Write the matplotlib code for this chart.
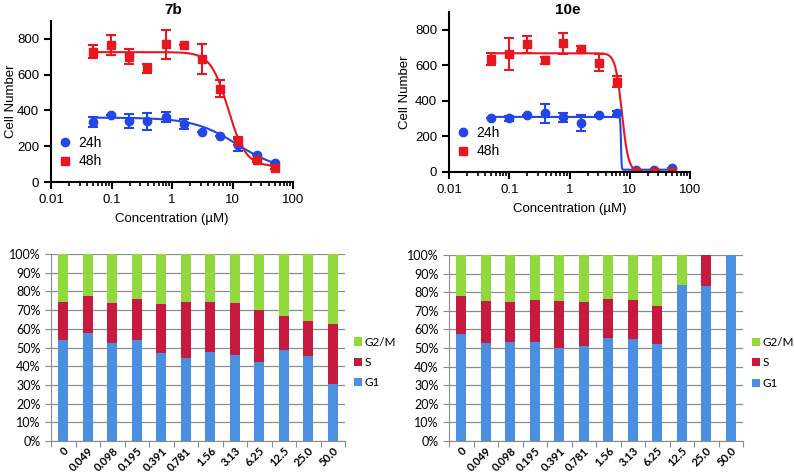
import numpy as np
import matplotlib
matplotlib.use('Agg')
import matplotlib.pyplot as plt
from matplotlib.ticker import LogLocator, NullFormatter, FixedLocator

plt.rcParams['font.family'] = ['Liberation Sans', 'DejaVu Sans']

# --- dose response data (concentration in uM) ---
conc = [0.049, 0.098, 0.195, 0.391, 0.781, 1.56, 3.13, 6.25, 12.5, 25, 50]

b7_24h = [334, 377, 340, 340, 362, 325, 278, 259, 208, 152, 105]
b7_24h_err = [28, 0, 38, 47, 28, 28, 0, 0, 33, 0, 0]
b7_48h = [729, 766, 700, 635, 770, 766, 687, 522, 231, 122, 81]
b7_48h_err = [38, 57, 41, 23, 80, 0, 86, 47, 23, 8, 8]

e10_24h = [302, 302, 321, 330, 307, 275, 321, 332, 11, 11, 25]
e10_24h_err = [0, 15, 0, 54, 25, 45, 0, 12, 0, 0, 0]
e10_48h = [638, 666, 719, 628, 723, 694, 615, 509, 2, 0, 0]
e10_48h_err = [34, 90, 47, 20, 60, 14, 47, 30, 0, 0, 0]

# fitted 4PL parameters: top, bottom, IC50, hill
b7_24h_fit = [360, 60, 12.0, 1.2]
b7_48h_fit = [726, 88, 8.5, 3.0]
e10_24h_fit = [310, 13, 7.15, 80]
e10_48h_fit = [668, 0, 7.4, 8]

# --- cell cycle data (percent) ---
cc_labels = ['0', '0.049', '0.098', '0.195', '0.391', '0.781', '1.56', '3.13',
             '6.25', '12.5', '25.0', '50.0']
b7_g1 = [54.0, 57.6, 52.6, 54.0, 46.9, 44.5, 47.6, 45.8, 42.2, 48.5, 45.6, 30.6]
b7_s = [20.4, 19.7, 21.1, 21.8, 26.6, 29.9, 26.8, 27.9, 27.6, 18.4, 18.4, 31.8]
b7_g2m = [25.6, 22.7, 26.3, 24.2, 26.5, 25.6, 25.6, 26.3, 30.2, 33.1, 36.0, 37.6]

e10_g1 = [57.5, 52.6, 53.3, 53.3, 50.1, 51.2, 55.5, 54.8, 52.1, 83.7, 83.5, 100.0]
e10_s = [20.4, 22.6, 21.6, 22.3, 25.1, 23.7, 20.8, 21.1, 20.3, 0.0, 16.5, 0.0]
e10_g2m = [22.1, 24.8, 25.1, 24.4, 24.8, 25.1, 23.7, 24.1, 27.6, 16.3, 0.0, 0.0]

blue = '#2346e6'
red = '#e8161e'
c_g1 = '#4a8fe0'
c_s = '#c81a3e'
c_g2m = '#8fd93c'
cc_font = ['Lato', 'DejaVu Sans']


def logistic(x, p):
    top, bottom, ic50, hill = p
    return bottom + (top - bottom) / (1 + (x / ic50) ** hill)


def dose_plot(ax, d24, e24, d48, e48, f24, f48, ylab_x):
    xs = np.logspace(np.log10(conc[0]), np.log10(conc[-1]), 600)
    ax.plot(xs, logistic(xs, f24), color=blue, lw=1.5)
    ax.plot(xs, logistic(xs, f48), color=red, lw=1.5)
    ax.errorbar(conc, d24, yerr=e24, fmt='o', color=blue, ms=6, capsize=3.5,
                elinewidth=1.5, capthick=1.5, label='24h')
    ax.errorbar(conc, d48, yerr=e48, fmt='s', color=red, ms=6, capsize=3.5,
                elinewidth=1.5, capthick=1.5, label='48h')
    ax.set_xscale('log')
    ax.set_xlim(0.01, 100)
    ax.set_ylim(0, 900)
    ax.set_yticks([0, 200, 400, 600, 800])
    ax.xaxis.set_major_locator(FixedLocator([0.01, 0.1, 1, 10, 100]))
    ax.set_xticklabels(['0.01', '0.1', '1', '10', '100'])
    ax.xaxis.set_minor_locator(LogLocator(base=10, subs=np.arange(2, 10)))
    ax.xaxis.set_minor_formatter(NullFormatter())
    for s in ['top', 'right']:
        ax.spines[s].set_visible(False)
    for s in ['left', 'bottom']:
        ax.spines[s].set_linewidth(1.5)
    ax.tick_params(which='major', length=5, width=1.5, labelsize=9.5)
    ax.tick_params(which='minor', length=3, width=1.2)
    ax.set_xlabel('Concentration (\u00b5M)', fontsize=9.5, labelpad=5)
    ax.set_ylabel('Cell Number', fontsize=9.5)
    ax.yaxis.set_label_coords(ylab_x, 0.5)
    h, l = ax.get_legend_handles_labels()
    h = [hh[0] for hh in h]
    ax.legend(h, l, loc='lower left', bbox_to_anchor=(0.01, 0.05), frameon=False,
              handlelength=0.8, handletextpad=0.6, labelspacing=0.35,
              fontsize=10, borderaxespad=0)


def cc_plot(ax, g1, s, g2m):
    x = np.arange(len(cc_labels))
    w = 0.4
    ax.bar(x, g1, w, color=c_g1, label='G1', zorder=3)
    ax.bar(x, s, w, bottom=g1, color=c_s, label='S', zorder=3)
    ax.bar(x, g2m, w, bottom=np.array(g1) + np.array(s), color=c_g2m,
           label='G2/M', zorder=3)
    ax.set_xlim(-0.5, len(cc_labels) - 0.5)
    ax.set_ylim(0, 100)
    ax.set_yticks(np.arange(0, 101, 10))
    ax.set_yticklabels(['%d%%' % v for v in range(0, 101, 10)], family=cc_font)
    ax.yaxis.grid(True, color='#8c8c8c', lw=0.9, zorder=0)
    ax.set_xticks(np.arange(-0.5, len(cc_labels), 1))
    ax.set_xticklabels([])
    ax.set_xticks(x, minor=True)
    ax.set_xticklabels(cc_labels, minor=True, rotation=45, ha='right',
                       rotation_mode='anchor', family=cc_font,
                       fontsize=8, fontweight='bold')
    ax.tick_params(axis='x', which='minor', length=0, pad=3)
    ax.tick_params(axis='x', which='major', length=4, color='#8c8c8c')
    ax.tick_params(axis='y', length=4, color='#8c8c8c', labelsize=9)
    for s_ in ['top', 'right']:
        ax.spines[s_].set_visible(False)
    for s_ in ['left', 'bottom']:
        ax.spines[s_].set_color('#8c8c8c')
    h, l = ax.get_legend_handles_labels()
    ax.legend(h[::-1], l[::-1], loc='center left', bbox_to_anchor=(1.015, 0.42),
              frameon=False, handlelength=0.7, handleheight=0.7,
              handletextpad=0.15, labelspacing=0.8, borderaxespad=0,
              prop={'family': cc_font, 'size': 8.5})


fig = plt.figure(figsize=(7.94, 4.73), dpi=100)
W, H = 794, 473


def add_ax(l, r, top, bot):
    return fig.add_axes([l / W, 1 - bot / H, (r - l) / W, (bot - top) / H])


ax1 = add_ax(51, 293, 21, 182)
ax2 = add_ax(449, 690, 12, 172)
ax3 = add_ax(51, 345, 254, 441)
ax4 = add_ax(449, 743, 255, 441)

dose_plot(ax1, b7_24h, b7_24h_err, b7_48h, b7_48h_err, b7_24h_fit, b7_48h_fit,
          -0.14)
dose_plot(ax2, e10_24h, e10_24h_err, e10_48h, e10_48h_err,
          e10_24h_fit, e10_48h_fit, -0.158)
fig.text(173 / W, 1 - 10 / H, '7b', ha='center', va='center',
         fontsize=11, fontweight='bold')
fig.text(568 / W, 1 - 10 / H, '10e', ha='center', va='center',
         fontsize=11, fontweight='bold')
cc_plot(ax3, b7_g1, b7_s, b7_g2m)
cc_plot(ax4, e10_g1, e10_s, e10_g2m)

fig.savefig('out.png', dpi=100)
